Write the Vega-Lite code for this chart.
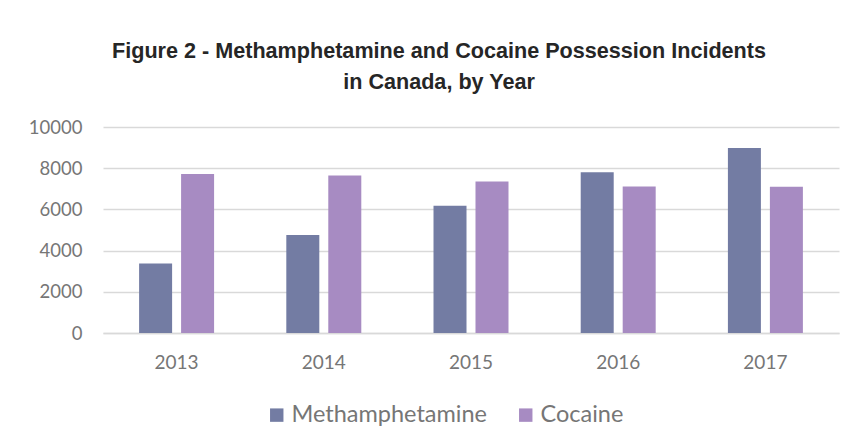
{
  "$schema": "https://vega.github.io/schema/vega-lite/v6.json",
  "width": 736,
  "height": 206,
  "autosize": "none",
  "padding": {"left": 103, "top": 127, "right": 15, "bottom": 109},
  "background": "white",
  "title": {
    "text": ["Figure 2 - Methamphetamine and Cocaine Possession Incidents", "in Canada, by Year"],
    "anchor": "middle",
    "frame": "group",
    "dx": -32,
    "offset": 24,
    "font": "Liberation Sans",
    "fontWeight": "bold",
    "fontSize": 21.6,
    "lineHeight": 31,
    "color": "#262626"
  },
  "data": {
    "values": [
      {"year": "2013", "drug": "Methamphetamine", "incidents": 3370},
      {"year": "2013", "drug": "Cocaine", "incidents": 7720},
      {"year": "2014", "drug": "Methamphetamine", "incidents": 4760},
      {"year": "2014", "drug": "Cocaine", "incidents": 7645},
      {"year": "2015", "drug": "Methamphetamine", "incidents": 6175},
      {"year": "2015", "drug": "Cocaine", "incidents": 7355},
      {"year": "2016", "drug": "Methamphetamine", "incidents": 7805},
      {"year": "2016", "drug": "Cocaine", "incidents": 7110},
      {"year": "2017", "drug": "Methamphetamine", "incidents": 8980},
      {"year": "2017", "drug": "Cocaine", "incidents": 7095}
    ]
  },
  "mark": {"type": "bar"},
  "encoding": {
    "x": {
      "field": "year",
      "type": "nominal",
      "scale": {"paddingInner": 0, "paddingOuter": 0},
      "axis": {
        "title": null,
        "labelAngle": 0,
        "labelFont": "Lato",
        "labelFontSize": 19,
        "labelColor": "#767676",
        "labelPadding": 20,
        "ticks": false,
        "domain": true,
        "domainColor": "#d9d9d9",
        "domainWidth": 1.5
      }
    },
    "xOffset": {
      "field": "drug",
      "type": "nominal",
      "sort": ["Methamphetamine", "Cocaine"],
      "scale": {"paddingInner": 0.214, "paddingOuter": 0.86}
    },
    "y": {
      "field": "incidents",
      "type": "quantitative",
      "scale": {"domain": [0, 10000], "nice": false},
      "axis": {
        "title": null,
        "values": [0, 2000, 4000, 6000, 8000, 10000],
        "format": "d",
        "labelFont": "Lato",
        "labelFontSize": 18.5,
        "labelColor": "#767676",
        "labelPadding": 21,
        "ticks": false,
        "domain": false,
        "grid": true,
        "gridColor": "#d9d9d9",
        "gridWidth": 1.3
      }
    },
    "color": {
      "field": "drug",
      "type": "nominal",
      "sort": ["Methamphetamine", "Cocaine"],
      "scale": {"domain": ["Methamphetamine", "Cocaine"], "range": ["#737ca3", "#a78bc2"]},
      "legend": {
        "title": null,
        "orient": "none",
        "direction": "horizontal",
        "legendX": 162,
        "legendY": 276,
        "padding": 0,
        "symbolType": "square",
        "symbolSize": 180,
        "symbolStrokeWidth": 0,
        "labelFont": "Lato",
        "labelFontSize": 23.5,
        "labelColor": "#767676",
        "labelOffset": 3,
        "labelLimit": 400,
        "columnPadding": 26
      }
    }
  },
  "config": {
    "view": {"stroke": null}
  }
}
